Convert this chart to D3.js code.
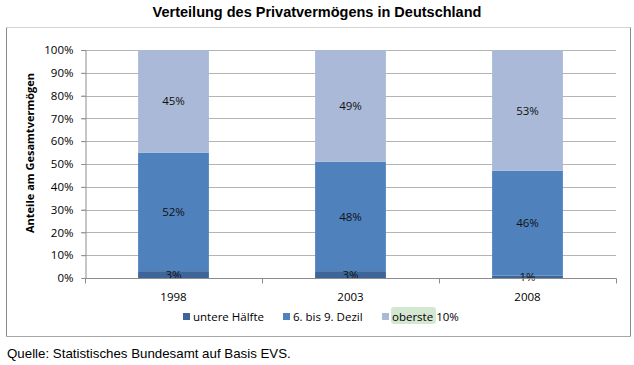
<!DOCTYPE html>
<html>
<head>
<meta charset="utf-8">
<script src="https://cdn.jsdelivr.net/npm/d3@7"></script>
<style>
  body { margin: 0; background: #fff; }
  svg { display: block; }
</style>
</head>
<body>
<div id="chart"></div>
<script>
// data
const years = ["1998", "2003", "2008"];
const seriesNames = ["untere Hälfte", "6. bis 9. Dezil", "oberste 10%"];
const untereHaelfte = [3, 3, 1];
const dezil6bis9 = [52, 48, 46];
const oberste10 = [45, 49, 53];
const yTicks = [0, 10, 20, 30, 40, 50, 60, 70, 80, 90, 100];

const colors = ["#3d6598", "#4f81bd", "#aab9d7"];

const width = 634, height = 365;
const plot = { left: 85, right: 616, top: 50, bottom: 278 };

const rows = years.map((y, i) => ({
  year: y,
  s0: untereHaelfte[i],
  s1: dezil6bis9[i],
  s2: oberste10[i]
}));

const stacked = d3.stack().keys(["s0", "s1", "s2"])(rows);

const svg = d3.select("#chart")
  .append("svg")
    .attr("width", width)
    .attr("height", height);

const labelFont = "'Open Sans', 'Noto Sans', sans-serif";

// title
svg.append("text")
  .attr("x", 317)
  .attr("y", 17)
  .attr("text-anchor", "middle")
  .style("font-family", "'Liberation Sans', Arial, sans-serif")
  .style("font-weight", "bold")
  .style("font-size", "14.5px")
  .text("Verteilung des Privatvermögens in Deutschland");

// chart frame
svg.append("line").attr("x1", 6.5).attr("x2", 630.5).attr("y1", 27.5).attr("y2", 27.5)
  .style("stroke", "#d4d4d4");
svg.append("line").attr("x1", 6.5).attr("x2", 6.5).attr("y1", 27.5).attr("y2", 336.5)
  .style("stroke", "#8c8c8c");
svg.append("line").attr("x1", 630.5).attr("x2", 630.5).attr("y1", 27.5).attr("y2", 336.5)
  .style("stroke", "#8c8c8c");
svg.append("line").attr("x1", 6.5).attr("x2", 630.5).attr("y1", 336.5).attr("y2", 336.5)
  .style("stroke", "#a6a6a6");

// scales
const xScale = d3.scaleBand()
  .domain(years)
  .range([plot.left, plot.right])
  .padding(0);

const yScale = d3.scaleLinear()
  .domain([0, 100])
  .range([plot.bottom, plot.top]);

const barW = xScale.bandwidth() * 0.4;

// gridlines
svg.append("g")
  .selectAll("line")
  .data(yTicks.filter(d => d > 0))
  .enter()
  .append("line")
    .attr("x1", plot.left - 4)
    .attr("x2", plot.right)
    .attr("y1", d => Math.round(yScale(d)) + 0.5)
    .attr("y2", d => Math.round(yScale(d)) + 0.5)
    .style("stroke", "#b4b4b4")
    .style("stroke-width", 1.2);

// bars
svg.append("g")
  .selectAll("g")
  .data(stacked)
  .enter()
  .append("g")
    .style("fill", (d, i) => colors[i])
  .selectAll("rect")
  .data(d => d)
  .enter()
  .append("rect")
    .attr("x", d => xScale(d.data.year) + (xScale.bandwidth() - barW) / 2)
    .attr("width", barW)
    .attr("y", d => yScale(d[1]))
    .attr("height", d => yScale(d[0]) - yScale(d[1]));

// data labels
svg.append("g")
  .selectAll("g")
  .data(stacked)
  .enter()
  .append("g")
  .selectAll("text")
  .data(d => d.map(p => ({ p: p, v: p[1] - p[0] })))
  .enter()
  .append("text")
    .attr("x", d => xScale(d.p.data.year) + xScale.bandwidth() / 2)
    .attr("y", d => (yScale(d.p[0]) + yScale(d.p[1])) / 2)
    .attr("dy", "0.36em")
    .attr("text-anchor", "middle")
    .style("font-family", labelFont)
    .style("font-size", "11.5px")
    .style("fill", "#111")
    .text(d => d.v + "%");

// y axis
const yAxis = svg.append("g")
  .attr("transform", "translate(" + (plot.left + 0.5) + ",0)")
  .call(d3.axisLeft(yScale)
    .tickValues(yTicks)
    .tickFormat(d => d + "%")
    .tickSize(4)
    .tickPadding(8));
yAxis.select(".domain").style("stroke", "#8c8c8c");
yAxis.selectAll(".tick line").style("stroke", "#8c8c8c");
yAxis.selectAll("text")
  .style("font-family", labelFont)
  .style("font-size", "11.5px")
  .style("fill", "#000");

// x axis with ticks at category boundaries
const xAxis = svg.append("g")
  .attr("transform", "translate(0," + (plot.bottom + 0.5) + ")");
xAxis.append("line")
  .attr("x1", plot.left)
  .attr("x2", plot.right + 0.5)
  .style("stroke", "#8c8c8c");
xAxis.selectAll("line.tk")
  .data(years.map(y => xScale(y)).concat([plot.right]))
  .enter()
  .append("line")
    .attr("class", "tk")
    .attr("x1", d => Math.round(d) + 0.5)
    .attr("x2", d => Math.round(d) + 0.5)
    .attr("y1", 0)
    .attr("y2", 5)
    .style("stroke", "#8c8c8c");
xAxis.selectAll("text")
  .data(years)
  .enter()
  .append("text")
    .attr("x", d => xScale(d) + xScale.bandwidth() / 2)
    .attr("y", 22)
    .attr("text-anchor", "middle")
    .style("font-family", labelFont)
    .style("font-size", "11.5px")
    .text(d => d);

// y axis title
svg.append("text")
  .attr("transform", "translate(34,153) rotate(-90)")
  .attr("text-anchor", "middle")
  .style("font-family", labelFont)
  .style("font-weight", "bold")
  .style("font-size", "11px")
  .text("Anteile am Gesamtvermögen");

// legend
const legendX = [183, 283, 382];
const legend = svg.append("g");

legend.append("rect")
  .attr("x", 391)
  .attr("y", 307)
  .attr("width", 45)
  .attr("height", 17)
  .attr("rx", 3)
  .style("fill", "#d3e7d1");

const items = legend.selectAll("g")
  .data(seriesNames)
  .enter()
  .append("g")
    .attr("transform", (d, i) => "translate(" + legendX[i] + ",313)");
items.append("rect")
  .attr("width", 7)
  .attr("height", 7)
  .style("fill", (d, i) => colors[i]);
items.append("text")
  .attr("x", 10)
  .attr("y", 8)
  .style("font-family", labelFont)
  .style("font-size", "11.5px")
  .text(d => d);

// source
svg.append("text")
  .attr("x", 7)
  .attr("y", 358)
  .style("font-family", "'Liberation Sans', Arial, sans-serif")
  .style("font-size", "13.3px")
  .text("Quelle: Statistisches Bundesamt auf Basis EVS.");
</script>
</body>
</html>
